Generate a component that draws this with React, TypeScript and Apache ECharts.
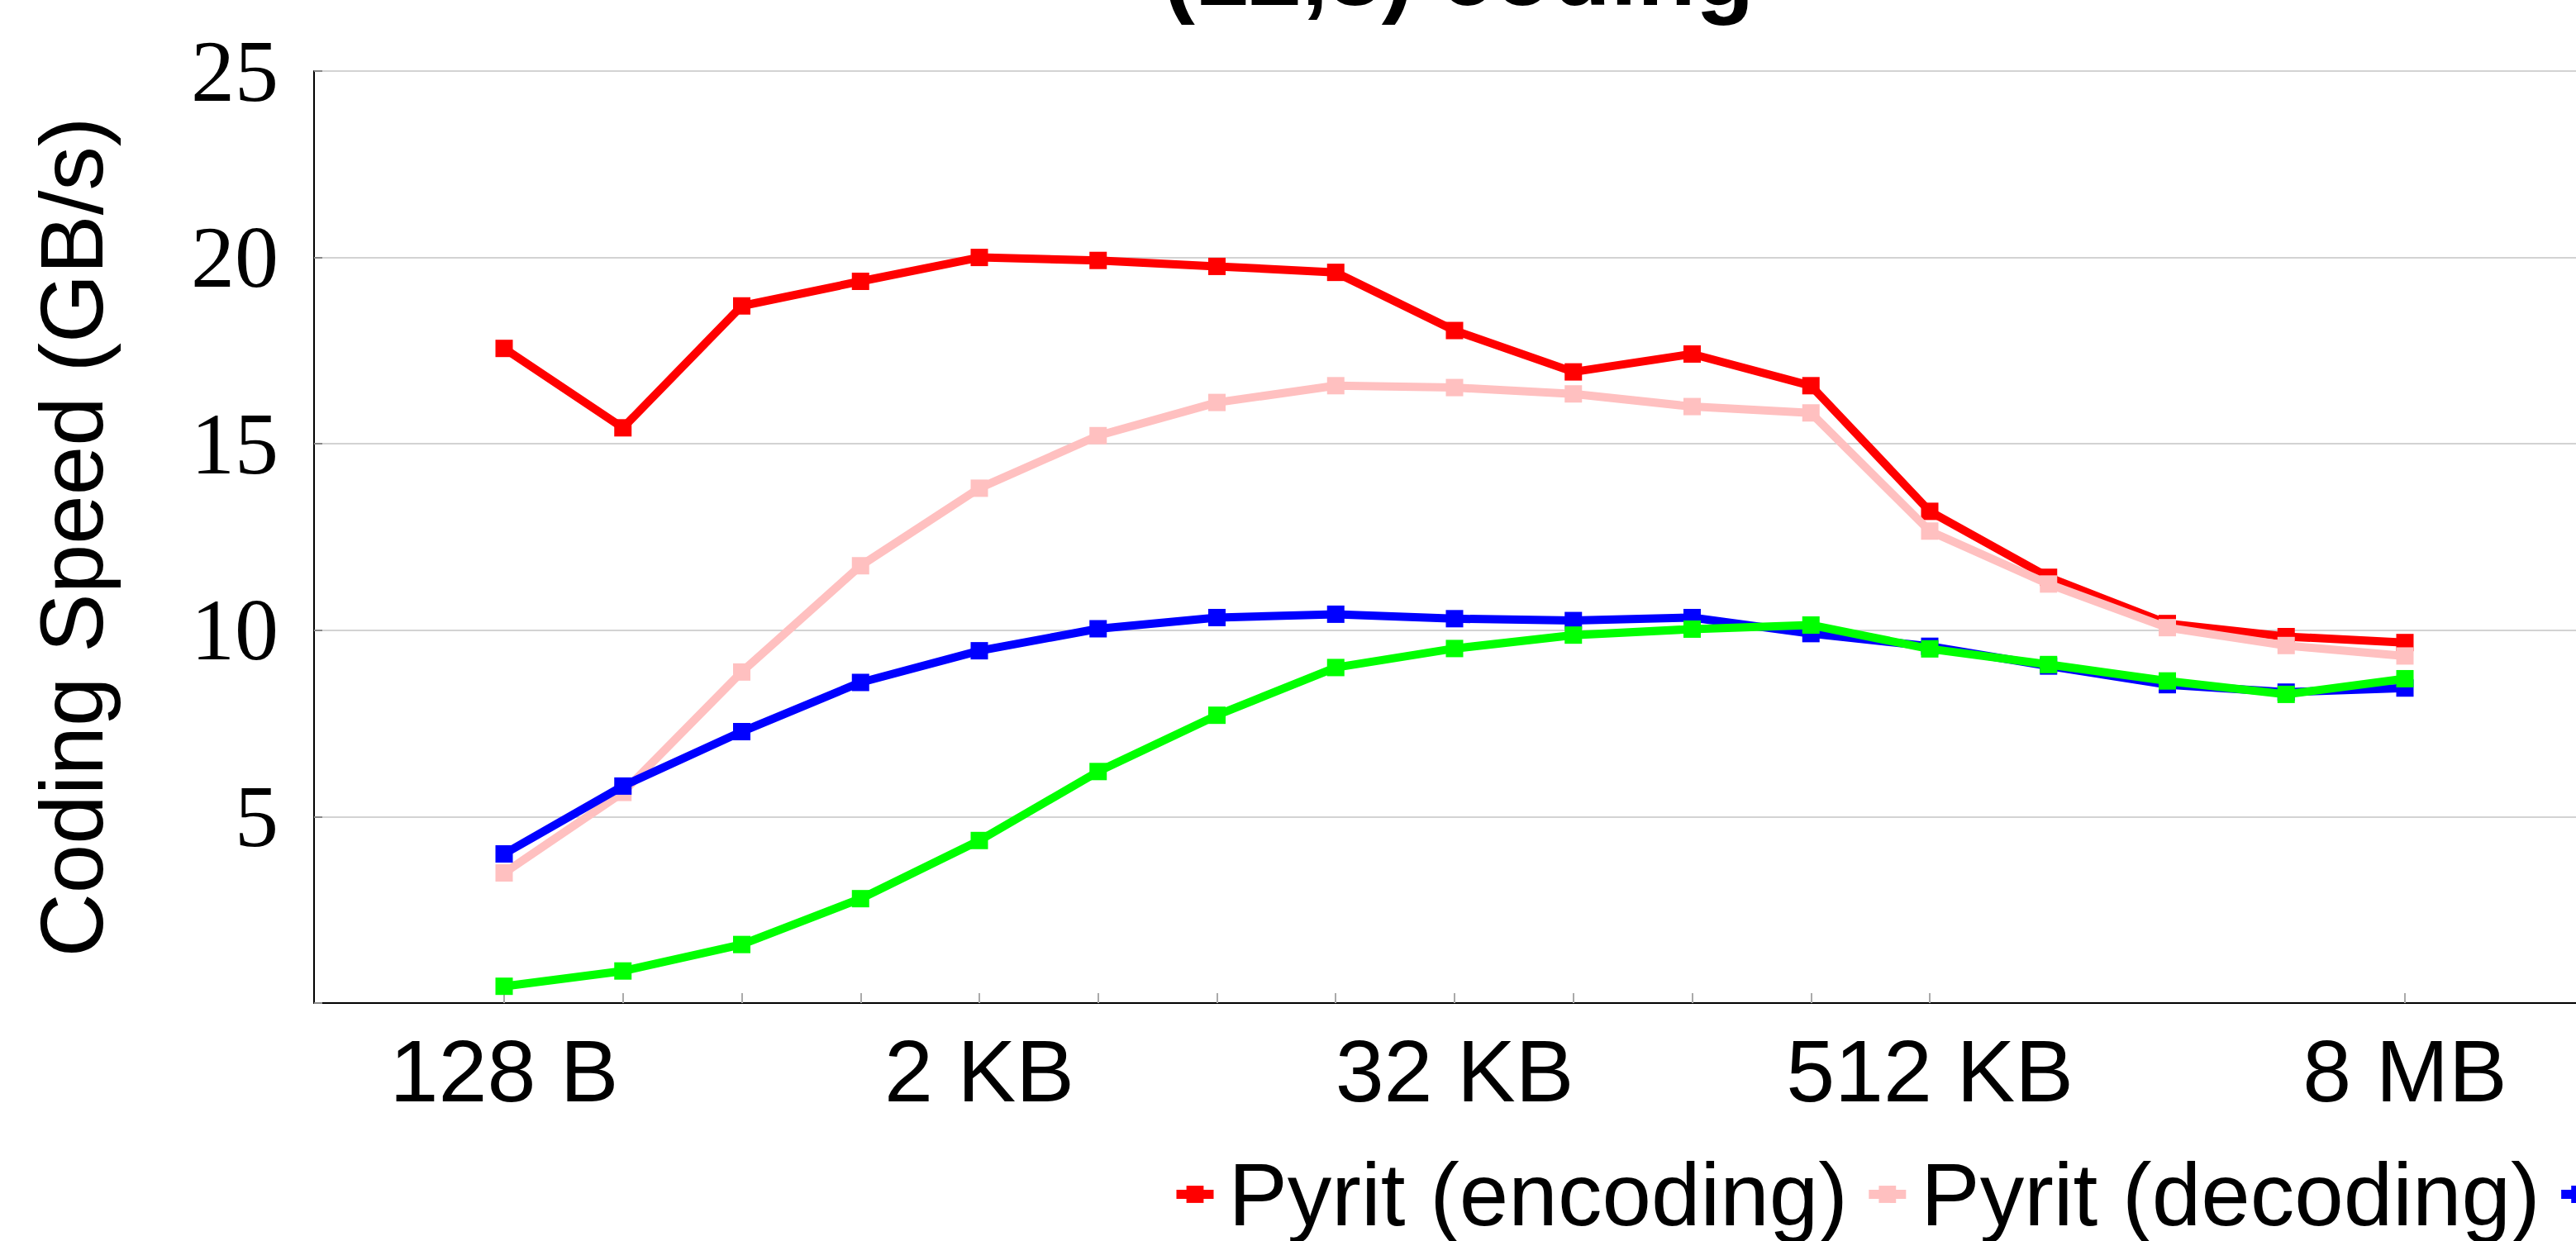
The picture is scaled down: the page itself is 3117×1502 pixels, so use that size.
import React, { useEffect, useRef } from "react";
import * as echarts from "echarts";

const sizes = ["128 B", "256 B", "512 B", "1 KB", "2 KB", "4 KB", "8 KB", "16 KB", "32 KB", "64 KB", "128 KB", "256 KB", "512 KB", "1 MB", "2 MB", "4 MB", "8 MB"];
const labelIdx = [0, 4, 8, 12, 16];
const tickIdx = [0, 1, 2, 3, 4, 5, 6, 7, 8, 9, 10, 11, 12, 16];

const seriesNames = ["Pyrit (encoding)", "Pyrit (decoding)", "ISA-L (encoding)", "ISA-L (decoding)"];
const seriesColors = ["#ff0000", "#ffc0c0", "#0000ff", "#00ff00"];

const pyritEnc = [17.56, 15.43, 18.7, 19.36, 20.0, 19.92, 19.76, 19.6, 18.04, 16.93, 17.41, 16.56, 13.19, 11.42, 10.18, 9.83, 9.67];
const pyritDec = [3.49, 5.65, 8.88, 11.73, 13.81, 15.22, 16.11, 16.56, 16.51, 16.34, 16.0, 15.83, 12.66, 11.24, 10.07, 9.59, 9.31];
const otherEnc = [4.0, 5.82, 7.28, 8.6, 9.45, 10.04, 10.34, 10.43, 10.31, 10.26, 10.34, 9.91, 9.57, 9.04, 8.54, 8.34, 8.45];
const otherDec = [0.45, 0.86, 1.57, 2.8, 4.36, 6.21, 7.72, 9.0, 9.51, 9.87, 10.03, 10.14, 9.5, 9.08, 8.64, 8.28, 8.7];

const allValues = [pyritEnc, pyritDec, otherEnc, otherDec];

export default function App() {
  const ref = useRef<HTMLDivElement>(null);
  useEffect(() => {
    if (!ref.current) return;
    const chart = echarts.init(ref.current, null, { renderer: "svg" });
    const sans = '"Liberation Sans", Arial, sans-serif';
    const serif = '"Liberation Serif", "Times New Roman", serif';
    chart.setOption({
      animation: false,
      backgroundColor: "#ffffff",
      graphic: [
        {
          type: "text",
          x: 1765,
          y: 24,
          style: {
            text: "(12,8) coding",
            font: `bold 116px ${sans}`,
            fill: "#000",
            textAlign: "center",
            textVerticalAlign: "bottom",
          },
        },
      ],
      grid: { left: 380, top: 86, bottom: 288, right: 0, containLabel: false },
      legend: {
        left: 1418,
        top: 1392,
        width: 5000,
        padding: 0,
        orient: "horizontal",
        itemWidth: 45,
        itemHeight: 26,
        itemGap: 20,
        data: seriesNames.slice(0, 3),
        lineStyle: { width: 11 },
        textStyle: { fontFamily: sans, fontSize: 107, color: "#000", padding: [0, 0, 0, 13] },
      },
      xAxis: {
        type: "value",
        min: -1.6,
        max: 17.6,
        axisLine: { show: true, onZero: false, lineStyle: { color: "#000", width: 2 } },
        splitLine: { show: false },
        axisTick: {
          show: true,
          inside: true,
          length: 12,
          customValues: tickIdx,
          lineStyle: { color: "#aaaaaa", width: 2 },
        },
        axisLabel: {
          customValues: labelIdx,
          formatter: (v: number) => sizes[Math.round(v)] ?? "",
          fontFamily: sans,
          fontSize: 106,
          color: "#000",
          margin: 29,
        },
      },
      yAxis: {
        type: "value",
        min: 0,
        max: 25,
        interval: 5,
        name: "Coding Speed (GB/s)",
        nameLocation: "middle",
        nameRotate: 90,
        nameGap: 240,
        nameTextStyle: { fontFamily: sans, fontSize: 107, color: "#000" },
        axisLine: { show: true, onZero: false, lineStyle: { color: "#000", width: 2 } },
        axisTick: { show: true, inside: true, length: 10, lineStyle: { color: "#888", width: 2 } },
        splitLine: { show: true, lineStyle: { color: "#d3d3d3", width: 2 } },
        axisLabel: {
          formatter: (v: number) => (v === 0 ? "" : String(v)),
          fontFamily: serif,
          fontSize: 106,
          color: "#000",
          margin: 43,
        },
      },
      series: allValues.map((vals, s) => ({
        name: seriesNames[s],
        type: "line",
        data: vals.map((v, i) => [i, v]),
        symbol: "rect",
        symbolSize: 21,
        showSymbol: true,
        color: seriesColors[s],
        lineStyle: { color: seriesColors[s], width: 10 },
        itemStyle: { color: seriesColors[s] },
        z: 2 + s,
      })),
    });
    return () => chart.dispose();
  }, []);
  return (
    <div
      ref={ref}
      style={{ position: "fixed", left: 0, top: 0, width: "3140px", height: "1502px", background: "#fff" }}
    />
  );
}
